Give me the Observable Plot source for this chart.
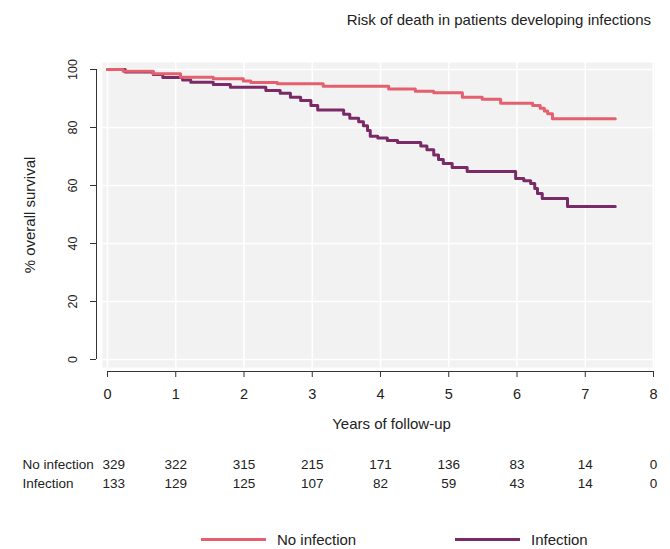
<!DOCTYPE html>
<html>
<head>
<meta charset="utf-8">
<script src="https://cdn.jsdelivr.net/npm/d3@7"></script>
<script src="https://cdn.jsdelivr.net/npm/@observablehq/plot@0.6"></script>
<style>
  body { margin: 0; background: #fff; font-family: "Liberation Sans", Arial, sans-serif; color: #222; }
  #title { height: 36px; box-sizing: border-box; padding: 12px 19px 0 0; text-align: right; font-size: 15px; line-height: 16px; }
  #legend { position: relative; height: 43px; font-size: 15px; }
  .item { position: absolute; top: 25px; height: 16px; display: flex; align-items: center; }
  .swatch { width: 65px; height: 3px; margin-right: 11px; }
</style>
</head>
<body>
<div id="title">Risk of death in patients developing infections</div>
<div id="chart"></div>
<div id="legend"></div>
<script>
// ---- data ----
const seriesNames = ["No infection", "Infection"];
const seriesColors = ["#e4606e", "#7a2b67"];

const noInfTime = [0, 0.23, 0.67, 1.07, 1.55, 1.99, 2.10, 2.49, 3.16, 4.12, 4.51, 4.78, 5.20, 5.49, 5.76, 6.23, 6.34, 6.40, 6.45, 6.52, 7.44];
const noInfSurv = [100, 99.4, 98.5, 97.3, 96.8, 96.0, 95.5, 95.1, 94.2, 93.3, 92.5, 92.0, 90.4, 89.7, 88.4, 87.6, 86.6, 85.7, 84.7, 83.0, 83.0];

const infTime = [0, 0.26, 0.67, 0.81, 1.10, 1.22, 1.55, 1.80, 2.32, 2.53, 2.68, 2.83, 2.98, 3.08, 3.46, 3.55, 3.68, 3.75, 3.81, 3.85, 3.96, 4.10, 4.25, 4.59, 4.68, 4.78, 4.85, 4.92, 5.05, 5.27, 5.98, 6.10, 6.20, 6.26, 6.30, 6.37, 6.74, 7.44];
const infSurv = [100, 99.1, 98.3, 97.2, 96.4, 95.6, 94.8, 93.9, 92.8, 91.8, 90.4, 89.3, 87.6, 86.0, 84.6, 83.2, 82.0, 80.6, 79.0, 77.0, 76.4, 75.5, 74.8, 73.6, 72.3, 70.5, 69.0, 67.6, 66.2, 64.8, 62.4, 61.6, 60.7, 59.0, 57.2, 55.5, 52.8, 52.8];

const xTicks = [0, 1, 2, 3, 4, 5, 6, 7, 8];
const yTicks = [0, 20, 40, 60, 80, 100];
const riskNoInf = [329, 322, 315, 215, 171, 136, 83, 14, 0];
const riskInf = [133, 129, 125, 107, 82, 59, 43, 14, 0];

const xLabel = "Years of follow-up";
const yLabel = "% overall survival";

// ---- build tables ----
const noInfData = noInfTime.map((t, i) => ({t, s: noInfSurv[i]}));
const infData = infTime.map((t, i) => ({t, s: infSurv[i]}));
const riskRows = [riskNoInf, riskInf].map(arr => xTicks.map((t, i) => ({t, n: arr[i]})));

const font = "'Liberation Sans', Arial, sans-serif";
const rowDy = [97, 116];
const txt = {lineAnchor: "middle", fill: "#222"};

const riskMarks = riskRows.flatMap((rows, r) => [
  Plot.text([seriesNames[r]], {...txt, text: d => d, frameAnchor: "bottom-left", dx: -80, dy: rowDy[r], textAnchor: "start", fontSize: 13.5}),
  Plot.text(rows.slice(0, 1), {...txt, x: "t", text: d => String(d.n), frameAnchor: "bottom", dx: -5, dy: rowDy[r], textAnchor: "start", fontSize: 13.5}),
  Plot.text(rows.slice(1), {...txt, x: "t", text: d => String(d.n), frameAnchor: "bottom", dy: rowDy[r], textAnchor: "middle", fontSize: 13.5})
]);

const plot = Plot.plot({
  width: 670,
  height: 470,
  marginTop: 26,
  marginBottom: 139,
  marginLeft: 102,
  marginRight: 16,
  x: {domain: [0, 8], insetLeft: 5, insetRight: 1},
  y: {domain: [0, 100], insetTop: 7, insetBottom: 8},
  style: {fontFamily: font, fontSize: "13px", color: "#222", background: "transparent", overflow: "visible"},
  marks: [
    Plot.frame({fill: "#f2f2f2", stroke: null}),
    Plot.gridX(xTicks, {stroke: "white", strokeOpacity: 1, strokeWidth: 1.6}),
    Plot.gridY(yTicks, {stroke: "white", strokeOpacity: 1, strokeWidth: 1.6}),
    Plot.line(infData, {x: "t", y: "s", curve: "step-after", stroke: seriesColors[1], strokeWidth: 3}),
    Plot.line(noInfData, {x: "t", y: "s", curve: "step-after", stroke: seriesColors[0], strokeWidth: 3}),
    // axis lines
    Plot.ruleY([0], {x1: xTicks[0], x2: xTicks[xTicks.length - 1], dy: 12, stroke: "#333"}),
    Plot.ruleX([0], {y1: yTicks[0], y2: yTicks[yTicks.length - 1], dx: -11, stroke: "#333"}),
    Plot.axisX(xTicks, {tickSize: 6, tickPadding: 11, dy: 4, label: null, fontSize: 14.5, stroke: "#333", fill: "#222"}),
    Plot.axisY(yTicks, {tickSize: 6, dx: -6, label: null, fill: "none", stroke: "#333"}),
    Plot.text(yTicks, {...txt, y: d => d, text: d => String(d), frameAnchor: "left", dx: -30, rotate: -90, textAnchor: "middle", fontSize: 12.5}),
    // axis titles
    Plot.text([xLabel], {...txt, text: d => d, frameAnchor: "bottom", dx: 13, dy: 57, textAnchor: "middle", fontSize: 15}),
    Plot.text([yLabel], {...txt, text: d => d, frameAnchor: "left", dx: -72, rotate: -90, textAnchor: "middle", fontSize: 15}),
    // risk table
    ...riskMarks
  ]
});
document.getElementById("chart").appendChild(plot);

// ---- legend ----
const legend = document.getElementById("legend");
const legendLeft = [201, 455];
seriesNames.forEach((name, i) => {
  const item = document.createElement("div");
  item.className = "item";
  item.style.left = legendLeft[i] + "px";
  const sw = document.createElement("span");
  sw.className = "swatch";
  sw.style.background = seriesColors[i];
  const label = document.createElement("span");
  label.textContent = name;
  item.appendChild(sw);
  item.appendChild(label);
  legend.appendChild(item);
});
</script>
</body>
</html>
